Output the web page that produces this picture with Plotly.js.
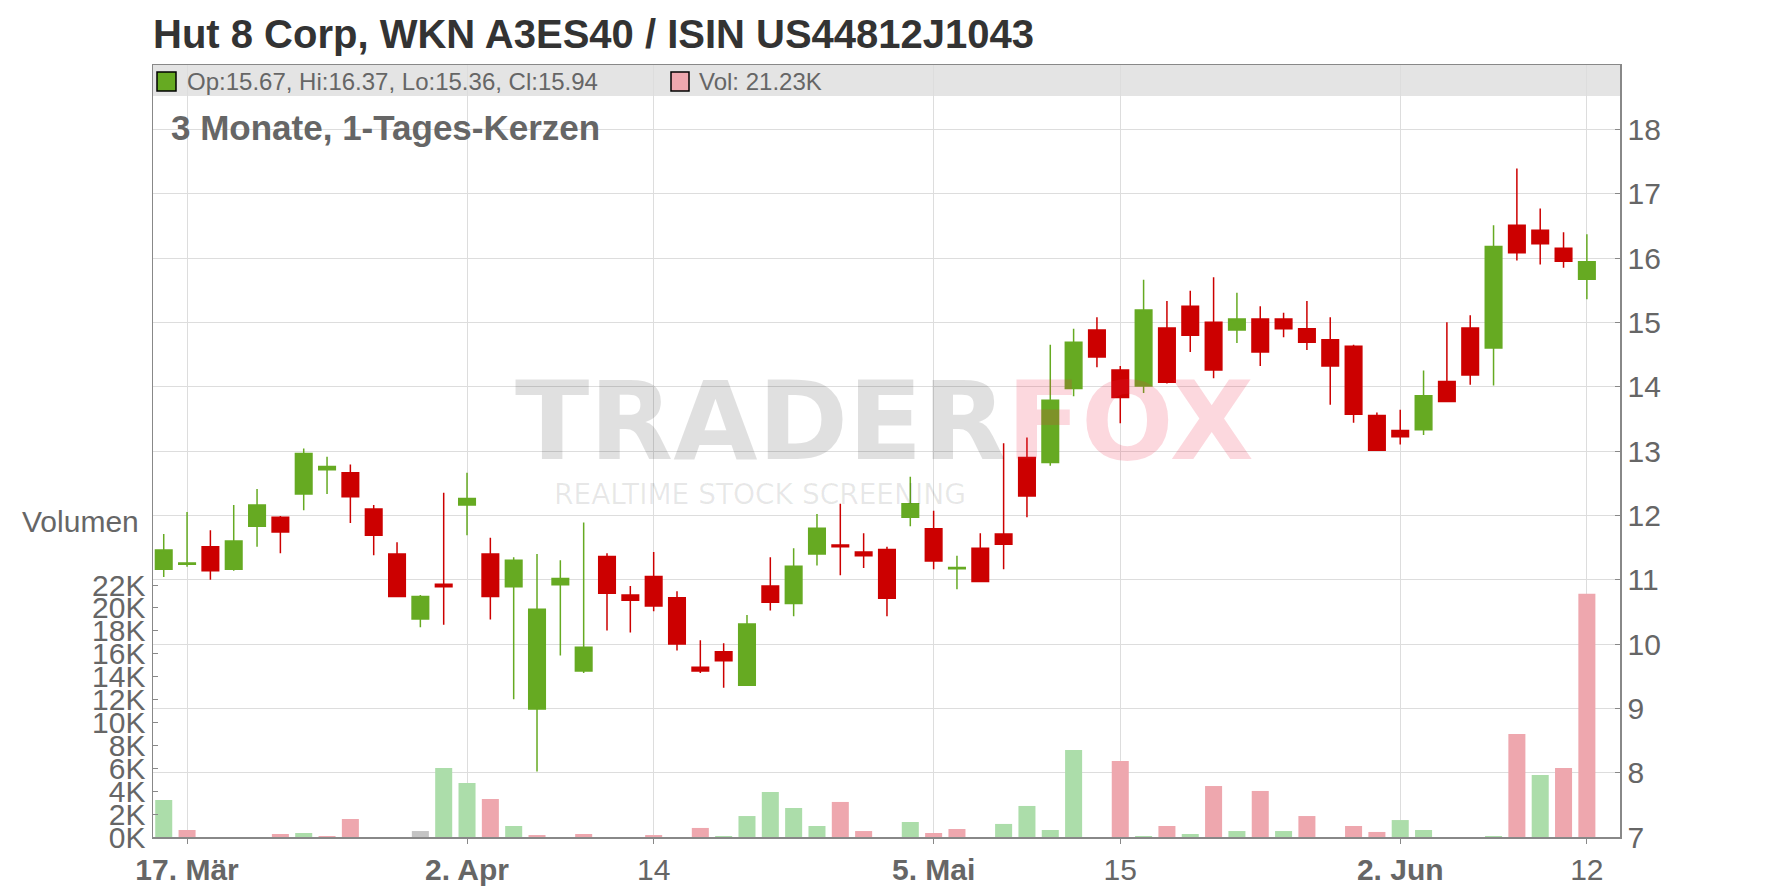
<!DOCTYPE html>
<html><head><meta charset="utf-8">
<script src="https://cdn.plot.ly/plotly-3.0.1.min.js"></script>
<style>html,body{margin:0;padding:0;background:#fff}#chart{width:1776px;height:888px}</style>
</head><body><div id="chart"></div>
<script>
// ---------------- data ----------------
const dates = ['2025-03-14','2025-03-17','2025-03-18','2025-03-19','2025-03-20','2025-03-21','2025-03-24','2025-03-25','2025-03-26','2025-03-27','2025-03-28','2025-03-31','2025-04-01','2025-04-02','2025-04-03','2025-04-04','2025-04-07','2025-04-08','2025-04-09','2025-04-10','2025-04-11','2025-04-14','2025-04-15','2025-04-16','2025-04-17','2025-04-22','2025-04-23','2025-04-24','2025-04-25','2025-04-28','2025-04-29','2025-04-30','2025-05-02','2025-05-05','2025-05-06','2025-05-07','2025-05-08','2025-05-09','2025-05-12','2025-05-13','2025-05-14','2025-05-15','2025-05-16','2025-05-19','2025-05-20','2025-05-21','2025-05-22','2025-05-23','2025-05-26','2025-05-27','2025-05-28','2025-05-29','2025-05-30','2025-06-02','2025-06-03','2025-06-04','2025-06-05','2025-06-06','2025-06-09','2025-06-10','2025-06-11','2025-06-12'];
const open  = [11.16,11.24,11.51,11.16,11.83,11.97,12.33,12.71,12.66,12.10,11.40,10.39,10.93,12.16,11.40,10.89,8.99,10.92,9.58,11.36,10.76,11.05,10.72,9.64,9.88,9.36,10.90,10.63,11.40,11.54,11.43,11.47,11.97,11.79,11.17,11.49,11.71,12.90,12.82,13.97,14.88,14.26,14.01,14.91,15.25,15.00,14.88,15.05,15.05,14.90,14.73,14.63,13.55,13.32,13.33,14.08,14.91,14.60,16.51,16.43,16.15,15.67];
const high  = [11.71,12.05,11.77,12.16,12.41,11.99,13.04,12.91,12.79,12.16,11.58,10.76,12.35,12.66,11.65,11.35,11.40,11.30,11.89,11.41,10.90,11.43,10.82,10.06,10.01,10.45,11.35,11.49,12.02,12.18,11.72,11.51,12.60,12.07,11.37,11.72,13.12,13.21,14.65,14.90,15.08,14.32,15.66,15.33,15.49,15.70,15.46,15.25,15.15,15.33,15.08,14.65,13.60,13.64,14.25,15.00,15.11,16.51,17.39,16.77,16.40,16.37];
const low   = [11.04,11.20,11.00,11.14,11.51,11.41,12.08,12.33,11.88,11.38,10.73,10.26,10.30,11.69,10.38,9.14,8.02,9.82,9.55,10.21,10.18,10.51,9.90,9.55,9.32,9.35,10.52,10.43,11.22,11.07,11.18,10.43,11.83,11.16,10.85,10.96,11.16,11.97,12.77,13.85,14.30,13.43,13.90,14.05,14.54,14.13,14.68,14.32,14.77,14.57,13.72,13.44,13.00,13.10,13.25,13.77,14.03,14.02,15.96,15.90,15.85,15.36];
const close = [11.46,11.26,11.14,11.60,12.16,11.74,12.96,12.76,12.29,11.69,10.74,10.74,10.89,12.26,10.74,11.30,10.54,11.02,9.95,10.79,10.68,10.59,10.00,9.58,9.74,10.31,10.65,11.21,11.80,11.51,11.37,10.71,12.18,11.29,11.19,10.97,11.55,12.30,13.79,14.69,14.46,13.83,15.19,14.07,14.80,14.26,15.05,14.54,14.90,14.69,14.32,13.57,13.01,13.22,13.86,13.77,14.18,16.18,16.08,16.22,15.95,15.94];
const volume = [3230,610,0,0,0,260,350,90,1570,0,0,520,6030,4720,3320,960,170,0,260,0,0,170,0,790,90,1830,3930,2530,960,3060,520,0,1310,350,700,0,1140,2710,610,7600,0,6640,90,960,260,4450,520,4020,520,1830,0,960,440,1480,610,0,0,90,9000,5410,6030,21230];
const tickDates  = ['2025-03-17','2025-04-02','2025-04-14','2025-05-05','2025-05-15','2025-06-02','2025-06-12'];
const tickLabels = ['<b>17. Mär</b>','<b>2. Apr</b>','14','<b>5. Mai</b>','15','<b>2. Jun</b>','12'];
const priceTicks = [7,8,9,10,11,12,13,14,15,16,17,18];
const volTicks = [0,2000,4000,6000,8000,10000,12000,14000,16000,18000,20000,22000];
const volTickLabels = ['0K','2K','4K','6K','8K','10K','12K','14K','16K','18K','20K','22K'];
const titleText = 'Hut 8 Corp, WKN A3ES40 / ISIN US44812J1043';
const subtitleText = '3 Monate, 1-Tages-Kerzen';

// ---------------- styles ----------------
const GREEN='#66aa22', RED='#cc0000';
const VUP='#acddaa', VDOWN='#eea7ae', VFLAT='#c4c4c4';
const FONT='"Liberation Sans", Arial, sans-serif';
const GREY='#666666';
const L=153, R=1620, T=65, B=837;
const px = x => (x-L)/(R-L);
const py = y => (B-y)/(B-T);

const volColors = close.map((c,i)=>{
  const p = i===0 ? open[0] : close[i-1];
  return c>p ? VUP : (c<p ? VDOWN : VFLAT);
});
const last = close.length-1;
const legendText = 'Op:'+open[last].toFixed(2)+', Hi:'+high[last].toFixed(2)+', Lo:'+low[last].toFixed(2)+', Cl:'+close[last].toFixed(2);
const volText = 'Vol: '+(volume[last]/1000).toFixed(2)+'K';

const traces = [
  {type:'bar', x:dates, y:volume, yaxis:'y', marker:{color:volColors, line:{width:0}}, hoverinfo:'x+y', showlegend:false},
  {type:'candlestick', x:dates, open:open, high:high, low:low, close:close, yaxis:'y2',
   increasing:{line:{color:GREEN,width:1.5}, fillcolor:GREEN},
   decreasing:{line:{color:RED,width:1.5}, fillcolor:RED},
   whiskerwidth:0, showlegend:false}
];

const layout = {
  width:1776, height:888,
  margin:{l:L, r:1776-R, t:T, b:888-B, pad:0},
  paper_bgcolor:'#ffffff', plot_bgcolor:'rgba(0,0,0,0)',
  showlegend:false,
  bargap:0.27, boxgap:0.29, boxgroupgap:0,
  title:{text:titleText, x:L/1776, xanchor:'left', xref:'container', y:1-34/888, yanchor:'middle',
         font:{family:FONT, size:40, color:'#333333', weight:'bold'}},
  xaxis:{type:'category', range:[-0.46,62.42], tickmode:'array', tickvals:tickDates, ticktext:tickLabels,
         showgrid:true, gridcolor:'#dddddd', gridwidth:1, ticks:'outside', ticklen:5, tickcolor:'#888888',
         showline:true, linecolor:'#888888', linewidth:1.5, mirror:true,
         tickfont:{family:FONT, size:30, color:GREY}, rangeslider:{visible:false}, fixedrange:true},
  yaxis:{range:[0,67400], side:'left', tickmode:'array', tickvals:volTicks, ticktext:volTickLabels,
         showgrid:false, zeroline:false, ticks:'inside', ticklen:5, tickcolor:'#888888',
         showline:true, linecolor:'#888888', linewidth:1.5,
         tickfont:{family:FONT, size:30, color:GREY}, fixedrange:true},
  yaxis2:{range:[7,19], side:'right', overlaying:'y', tickmode:'array', tickvals:priceTicks,
         showgrid:true, gridcolor:'#dddddd', gridwidth:1, zeroline:false, ticks:'inside', ticklen:5, tickcolor:'#888888',
         showline:true, linecolor:'#888888', linewidth:1.5,
         tickfont:{family:FONT, size:30, color:GREY}, fixedrange:true},
  shapes:[
    {type:'rect', xref:'paper', yref:'paper', x0:0, x1:1, y0:py(96), y1:1, fillcolor:'#e4e4e4', line:{width:0}, layer:'below'},
    {type:'rect', xref:'paper', yref:'paper', x0:px(157), x1:px(176), y0:py(91), y1:py(72), fillcolor:GREEN, line:{color:'#000',width:1.5}, layer:'above'},
    {type:'rect', xref:'paper', yref:'paper', x0:px(671), x1:px(689), y0:py(91), y1:py(72), fillcolor:VDOWN, line:{color:'#000',width:1.5}, layer:'above'}
  ],
  annotations:[
    {xref:'paper', yref:'paper', x:px(884), y:py(421), xanchor:'center', yanchor:'middle', showarrow:false,
     text:"<span style='color:rgba(0,0,0,0.12)'>TRADER</span><span style='color:rgba(240,40,70,0.18)'>FOX</span>",
     font:{family:'"DejaVu Sans", sans-serif', size:109, weight:'bold'}},
    {xref:'paper', yref:'paper', x:px(760), y:py(494), xanchor:'center', yanchor:'middle', showarrow:false,
     text:'REALTIME STOCK SCREENING', font:{family:'"DejaVu Sans", sans-serif', size:28, color:'rgba(0,0,0,0.09)'}},
    {xref:'paper', yref:'paper', x:px(169), y:py(128), xanchor:'left', yanchor:'middle', showarrow:false,
     text:'<b>'+subtitleText+'</b>', font:{family:FONT, size:35, color:GREY}},
    {xref:'paper', yref:'paper', x:px(141), y:py(521), xanchor:'right', yanchor:'middle', showarrow:false,
     text:'Volumen', font:{family:FONT, size:30, color:GREY}},
    {xref:'paper', yref:'paper', x:px(185), y:py(82), xanchor:'left', yanchor:'middle', showarrow:false,
     text:legendText, font:{family:FONT, size:24, color:GREY}},
    {xref:'paper', yref:'paper', x:px(697), y:py(82), xanchor:'left', yanchor:'middle', showarrow:false,
     text:volText, font:{family:FONT, size:24, color:GREY}}
  ]
};

Plotly.newPlot('chart', traces, layout, {displayModeBar:false, staticPlot:true});
</script></body></html>
